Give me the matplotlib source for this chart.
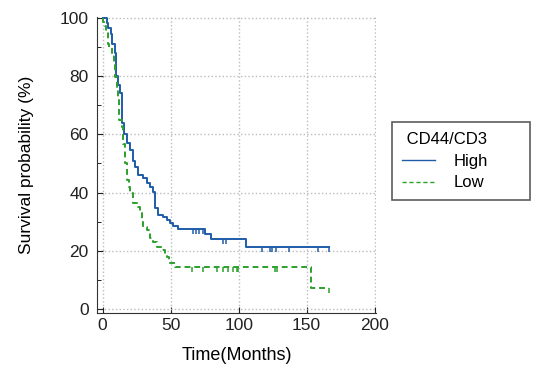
import numpy as np
import matplotlib
matplotlib.use("Agg")
import matplotlib.pyplot as plt

plt.rcParams['font.family'] = ['Liberation Sans', 'DejaVu Sans']

# Kaplan-Meier step data (months, survival %)
high_t = [0, 2.9, 4, 5.9, 7, 9, 9.8, 11.5, 13, 14, 14.5, 16, 17.6, 20, 22.5, 23.8,
          26.2, 29.9, 32.3, 34.8, 37.2, 38.5, 40.9, 44, 47, 49.5, 52, 55.6, 75.2,
          80, 105.4, 166.4]
high_s = [100, 98, 96.5, 94.5, 91, 88, 80, 76.8, 74, 71.7, 64, 60, 57, 54.5, 51, 48.8,
          46, 44.9, 43.2, 42, 40.3, 34.6, 32.3, 31.5, 30.6, 29.5, 28.5, 27.5, 25.8,
          24.1, 21.4, 21.4]
high_cens = [66.6, 68.6, 71, 73.5, 88.7, 90.7, 117, 123, 124.3, 127.5, 137.3, 158.5, 166.4]

low_t = [0, 0.5, 1.5, 2.5, 4, 5, 6.6, 8.3, 9, 10.3, 11, 12.2, 14, 15.2, 16.4, 17.6,
         19, 20, 22.5, 26.2, 27.4, 29, 29.9, 32.3, 34.8, 37.2, 39.7, 43.4, 46, 47,
         48.5, 49.5, 53, 153, 166.6]
low_s = [100, 98.5, 97, 95, 91, 90, 87.7, 84.3, 79.7, 76.2, 72, 64.8, 62.5, 56.8, 50, 44.3,
         42, 39.7, 36.3, 35.1, 32.9, 30, 28.3, 27.2, 24.3, 23.2, 21.4, 20.3, 19, 18,
         16.8, 15.8, 14.6, 7.2, 7.2]
low_cens = [65.4, 74, 83.8, 88.7, 92.4, 95.6, 98.5, 99.7, 126.7, 128, 166.6]

blue = '#1f5ca8'
green = '#2ca02c'

fig = plt.figure(figsize=(5.34, 3.71), dpi=100)
ax = fig.add_axes([0.1816, 0.1563, 0.5225, 0.7977])


def surv_at(ts, ss, t):
    i = np.searchsorted(ts, t, side='right') - 1
    return ss[i]


ax.step(high_t, high_s, where='post', color=blue, lw=1.4, label='High')
ax.step(low_t, low_s, where='post', color=green, lw=1.4, ls=(0, (3, 2)), label='Low')

# censoring marks
hc = [surv_at(high_t, high_s, t) for t in high_cens]
lc = [surv_at(low_t, low_s, t) for t in low_cens]
ax.vlines(high_cens, np.array(hc) - 1.8, hc, color=blue, lw=1.1)
ax.vlines(low_cens, np.array(lc) - 1.8, lc, color=green, lw=1.1)

ax.set_xlim(-4.2, 201)
ax.set_ylim(-1.3, 100.2)
ax.set_xticks([0, 50, 100, 150, 200])
ax.set_yticks([0, 20, 40, 60, 80, 100])
ax.set_yticks(np.arange(10, 100, 20), minor=True)
ax.grid(True, ls=':', color='#bbbbbb', lw=1)
ax.tick_params(direction='in', length=4, labelsize=12.5, colors='#222222')
ax.tick_params(axis='y', pad=6)
ax.tick_params(which='minor', direction='in', length=3)
for side in ['top', 'right']:
    ax.spines[side].set_visible(False)
for side in ['left', 'bottom']:
    ax.spines[side].set_color('#333333')

ax.set_xlabel('Time(Months)', fontsize=13)
ax.set_ylabel('Survival probability (%)', fontsize=12.5)
ax.xaxis.set_label_coords(0.5, -0.115)
ax.yaxis.set_label_coords(-0.225, 0.5)

leg = ax.legend(title=' CD44/CD3', loc='upper left',
                bbox_to_anchor=(0.734, 0.466, 0.258, 0.205),
                bbox_transform=fig.transFigure, mode='expand', borderaxespad=0,
                fancybox=False, edgecolor='#333333', fontsize=12,
                title_fontsize=12, handlelength=2.0, handletextpad=1.1,
                labelspacing=0.4, borderpad=0.6, alignment='left')
leg.get_frame().set_linewidth(1.2)
for line in leg.get_lines():
    line.set_linewidth(1.0)

plt.savefig('out.png', dpi=100)
